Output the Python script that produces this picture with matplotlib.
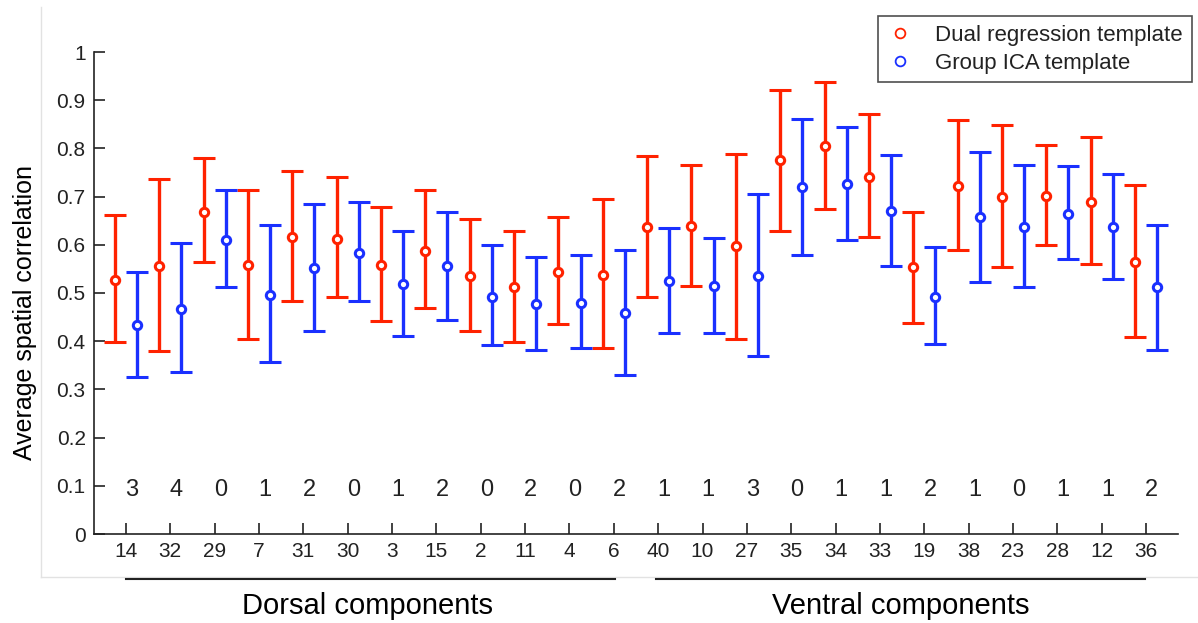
import numpy as np
import matplotlib.pyplot as plt
from matplotlib.lines import Line2D

# component labels along the x axis
components = ['14', '32', '29', '7', '31', '30', '3', '15', '2', '11', '4', '6',
              '40', '10', '27', '35', '34', '33', '19', '38', '23', '28', '12', '36']
counts = [3, 4, 0, 1, 2, 0, 1, 2, 0, 2, 0, 2,
          1, 1, 3, 0, 1, 1, 2, 1, 0, 1, 1, 2]

# dual regression template (red)
dual_mean = [0.528, 0.555, 0.669, 0.558, 0.616, 0.613, 0.558, 0.588, 0.535, 0.512, 0.544, 0.538,
             0.636, 0.640, 0.597, 0.775, 0.805, 0.741, 0.553, 0.723, 0.700, 0.702, 0.689, 0.565]
dual_low = [0.399, 0.380, 0.564, 0.405, 0.484, 0.492, 0.442, 0.468, 0.421, 0.398, 0.435, 0.385,
            0.491, 0.514, 0.405, 0.629, 0.674, 0.616, 0.438, 0.589, 0.553, 0.599, 0.560, 0.409]
dual_high = [0.662, 0.737, 0.780, 0.714, 0.753, 0.740, 0.678, 0.714, 0.654, 0.629, 0.658, 0.694,
             0.784, 0.766, 0.789, 0.921, 0.938, 0.871, 0.668, 0.858, 0.848, 0.808, 0.823, 0.724]

# group ICA template (blue)
gica_mean = [0.434, 0.466, 0.610, 0.496, 0.551, 0.584, 0.518, 0.555, 0.492, 0.477, 0.479, 0.459,
             0.525, 0.515, 0.535, 0.719, 0.726, 0.670, 0.492, 0.657, 0.636, 0.663, 0.636, 0.512]
gica_low = [0.326, 0.337, 0.512, 0.356, 0.422, 0.484, 0.411, 0.445, 0.392, 0.382, 0.385, 0.329,
            0.418, 0.418, 0.369, 0.579, 0.610, 0.557, 0.394, 0.523, 0.513, 0.570, 0.530, 0.382]
gica_high = [0.543, 0.603, 0.714, 0.641, 0.685, 0.688, 0.629, 0.668, 0.599, 0.575, 0.579, 0.589,
             0.635, 0.615, 0.705, 0.862, 0.845, 0.786, 0.595, 0.793, 0.766, 0.763, 0.747, 0.641]

RED = '#ff2200'
BLUE = '#1a30ff'
DARK = '#222222'

plt.rcParams['font.family'] = ['Liberation Sans', 'DejaVu Sans']

fig = plt.figure(figsize=(11.98, 6.23), dpi=100)
ax = fig.add_axes([94 / 1198, 1 - 534 / 623, (1178 - 94) / 1198, (534 - 52) / 623])

x = np.arange(1, len(components) + 1)
off = 0.25


def draw(xpos, mean, low, high, color):
    mean = np.array(mean)
    err = [mean - np.array(low), np.array(high) - mean]
    ax.errorbar(xpos, mean, yerr=err, fmt='o', color=color, ecolor=color,
                elinewidth=2.4, capsize=8, capthick=2.4,
                markersize=6, markerfacecolor='white', markeredgewidth=2.2, zorder=3)


draw(x - off, dual_mean, dual_low, dual_high, RED)
draw(x + off, gica_mean, gica_low, gica_high, BLUE)

for xi, c in zip(x, counts):
    ax.text(xi - 0.02, 0.091, str(c), ha='left', va='center', fontsize=17, color=DARK)

ax.set_xlim(0.28, 24.72)
ax.set_ylim(0, 1)
ax.set_xticks(x)
ax.set_xticklabels(components)
ax.set_yticks(np.round(np.arange(0, 1.01, 0.1), 1))
ax.set_yticklabels(['0'] + ['%.1f' % v for v in np.arange(0.1, 0.95, 0.1)] + ['1'])
ax.tick_params(direction='in', length=8, width=1.2, color=DARK, labelcolor=DARK,
               labelsize=15, pad=6)
for s in ['top', 'right']:
    ax.spines[s].set_visible(False)
for s in ['left', 'bottom']:
    ax.spines[s].set_color(DARK)
    ax.spines[s].set_linewidth(1.2)

handles = [Line2D([], [], marker='o', linestyle='none', markerfacecolor='none',
                  markeredgecolor=RED, markersize=7, markeredgewidth=1.3),
           Line2D([], [], marker='o', linestyle='none', markerfacecolor='none',
                  markeredgecolor=BLUE, markersize=7, markeredgewidth=1.3)]
leg = fig.legend(handles, ['Dual regression template', 'Group ICA template'],
                 loc='upper right', bbox_to_anchor=(1192 / 1198, 1 - 16 / 623),
                 frameon=True, fancybox=False, fontsize=16, borderaxespad=0,
                 handlelength=1.2, handletextpad=1.0, labelspacing=0.3,
                 borderpad=0.4)
leg.get_frame().set_edgecolor(DARK)
leg.get_frame().set_linewidth(1.2)
for t in leg.get_texts():
    t.set_color(DARK)

# faint frame from the original screenshot
fig.add_artist(Line2D([41 / 1198, 41 / 1198], [1 - 7 / 623, 1 - 577 / 623],
                      color='#e2e2e2', lw=1))
fig.add_artist(Line2D([41 / 1198, 1.0], [1 - 577 / 623, 1 - 577 / 623],
                      color='#e2e2e2', lw=1))

# group underlines and labels
yl = 1 - 579 / 623
fig.add_artist(Line2D([126 / 1198, 615 / 1198], [yl, yl], color=DARK, lw=1.5))
fig.add_artist(Line2D([656 / 1198, 1145 / 1198], [yl, yl], color=DARK, lw=1.5))
fig.text(367 / 1198, 1 - 606 / 623, 'Dorsal components', ha='center', va='center',
         fontsize=21, color='black')
fig.text(901 / 1198, 1 - 606 / 623, 'Ventral components', ha='center', va='center',
         fontsize=21, color='black')
fig.text(25 / 1198, 1 - 312 / 623, 'Average spatial correlation', ha='center',
         va='center', rotation=90, fontsize=18, color='black')

fig.savefig('out.png', dpi=100)
